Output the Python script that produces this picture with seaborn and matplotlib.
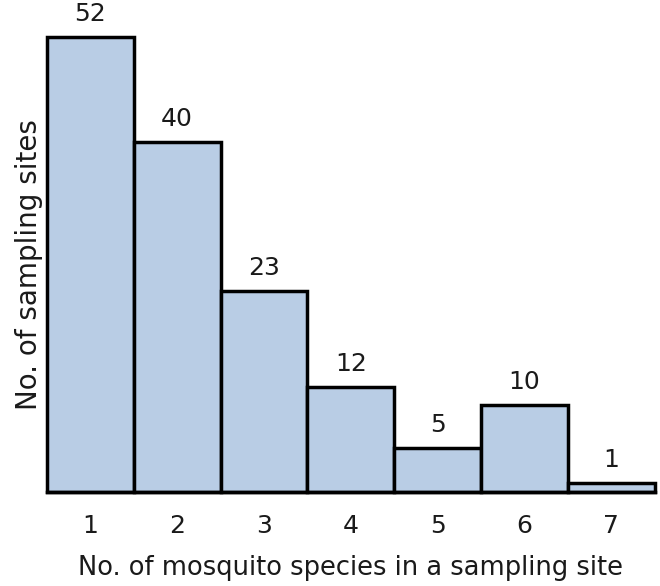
import matplotlib
matplotlib.use("Agg")
import matplotlib.pyplot as plt
import seaborn as sns
import pandas as pd

# number of mosquito species found per site, and how many sites had that many
species_count = ["1", "2", "3", "4", "5", "6", "7"]
site_count = [52, 40, 23, 12, 5, 10, 1]

sns.set_theme(style="white")
plt.rcParams["font.family"] = ["DejaVu Sans"]

df = pd.DataFrame({"species": species_count, "sites": site_count})

fig = plt.figure(figsize=(6.6, 5.86), dpi=100)
ax = fig.add_axes([0.071, 0.160, 0.921, 0.777])

sns.barplot(
    data=df,
    x="species",
    y="sites",
    color="#b9cde5",
    saturation=1,
    width=1.0,
    edgecolor="black",
    linewidth=2.5,
    ax=ax,
)

for bar in ax.patches:
    bar.set_clip_on(False)
ax.bar_label(ax.containers[0], padding=8, fontsize=18, color="#1a1a1a")

ax.set_xlim(-0.5, 6.5)
ax.set_ylim(0, 52)
ax.set_yticks([])
for side in ["top", "right", "left"]:
    ax.spines[side].set_visible(False)
ax.spines["bottom"].set_color("black")
ax.spines["bottom"].set_linewidth(2.5)
ax.tick_params(axis="x", length=0, pad=16, labelsize=18, labelcolor="#1a1a1a")

ax.set_xlabel("No. of mosquito species in a sampling site", fontsize=18.5,
              labelpad=12, color="#1a1a1a")
ax.set_ylabel("No. of sampling sites", fontsize=20, labelpad=3, color="#1a1a1a")

fig.savefig("out.png", dpi=100)
